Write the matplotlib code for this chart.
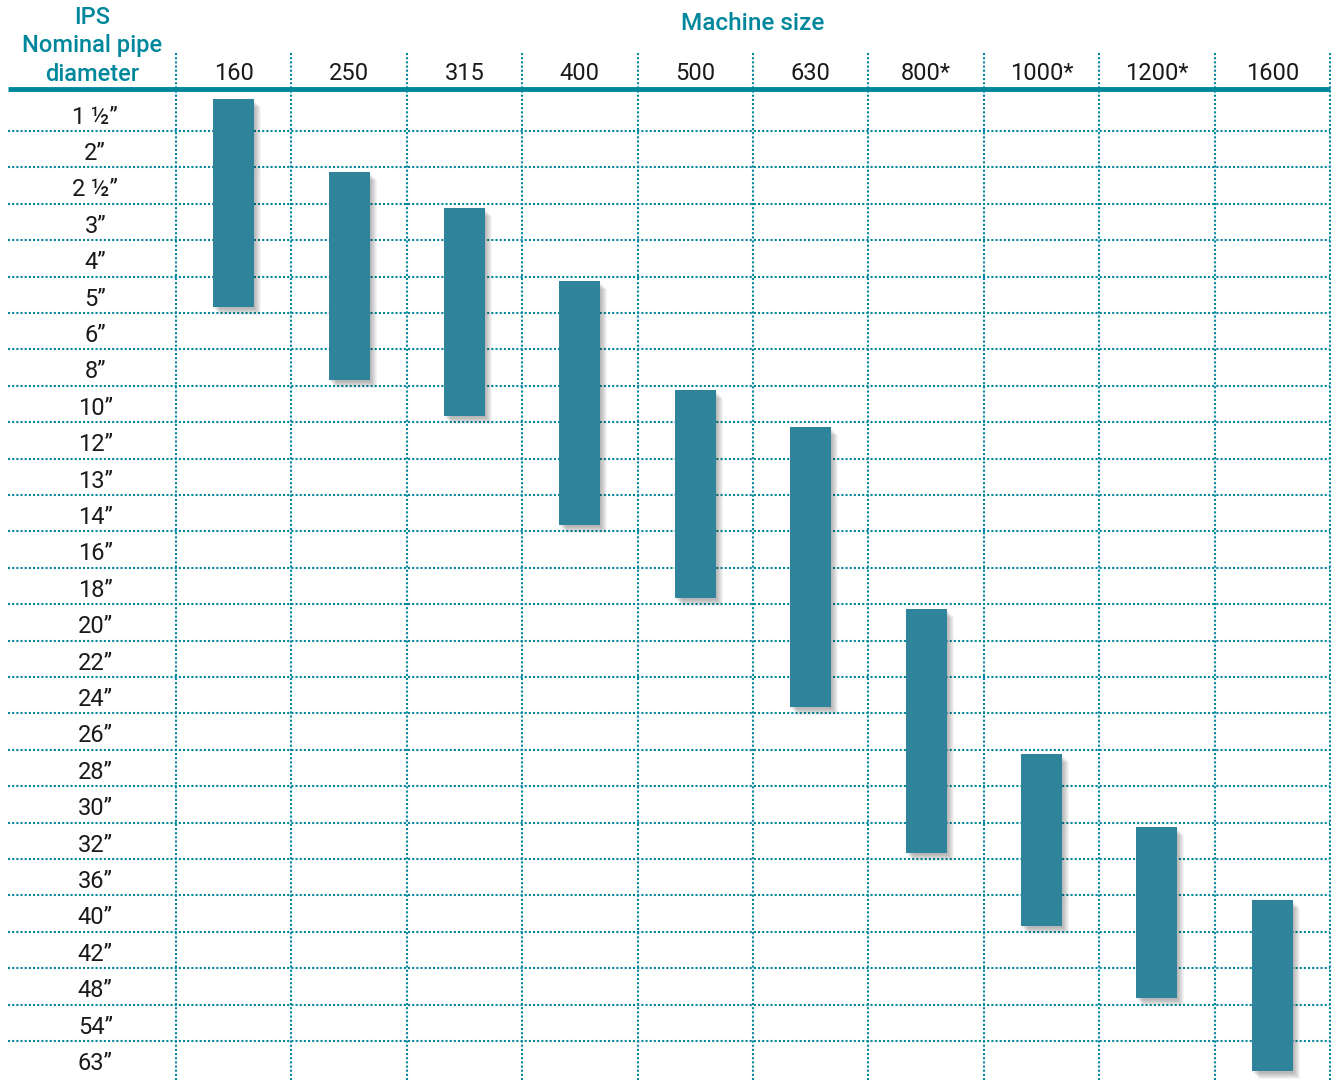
import matplotlib
matplotlib.use("Agg")
import matplotlib.pyplot as plt
from matplotlib.patches import Rectangle

plt.rcParams['font.family'] = ['Roboto', 'DejaVu Sans']

# pipe diameters (rows) and machine sizes (columns)
diameters = ["1 ½”", "2”", "2 ½”", "3”", "4”", "5”", "6”", "8”", "10”", "12”",
             "13”", "14”", "16”", "18”", "20”", "22”", "24”", "26”", "28”",
             "30”", "32”", "36”", "40”", "42”", "48”", "54”", "63”"]
machines = ["160", "250", "315", "400", "500", "630", "800*", "1000*",
            "1200*", "1600"]
range_from = ["1 ½”", "2 ½”", "3”", "5”", "10”", "12”", "20”", "28”", "32”", "40”"]
range_to = ["5”", "8”", "10”", "14”", "18”", "24”", "32”", "40”", "48”", "63”"]

teal = "#00879b"
bar_col = "#2f849c"

fig = plt.figure(figsize=(13.34, 10.8), dpi=100)
ax = fig.add_axes([0, 0, 1, 1])
# one column = 115.4 px, one row = 36.4 px
ax.set_xlim(-176 / 115.4, (1334 - 176) / 115.4)
ax.set_ylim((1080 - 112.8) / 36.4, -112.8 / 36.4)
ax.axis("off")

ncol = len(machines)
nrow = len(diameters)
left = -168 / 115.4
ytop = -60 / 36.4
ybot = (1080 - 112.8) / 36.4

# dotted grid
for k in range(nrow - 1):
    ax.plot([left, ncol], [k + 0.5, k + 0.5], color=teal, lw=1.5,
            ls=(0, (1, 1)), zorder=1)
for i in range(ncol + 1):
    ax.plot([i, i], [ytop, ybot], color=teal, lw=1.5, ls=(0, (1, 1)), zorder=1)

# header rule
ax.plot([left, ncol], [-0.655, -0.655], color=teal, lw=3.5,
        solid_capstyle="butt", zorder=4)

# headings
ax.text(ncol / 2, -2.44, "Machine size", color=teal, fontsize=17.5,
        fontweight="medium", ha="center", va="center")
ax.text(-0.728, -1.84, "IPS\nNominal pipe\ndiameter", color=teal,
        fontsize=17, fontweight="medium", ha="center", va="center",
        linespacing=1.3)

for i, m in enumerate(machines):
    ax.text(i + 0.5, -1.07, m, fontsize=17, color="#1a1a1a",
            ha="center", va="center")
for r, d in enumerate(diameters):
    ax.text(-0.70, r + 0.12, d, fontsize=17, color="#1a1a1a",
            ha="center", va="center")

# bars with a soft drop shadow
bw = 41 / 115.4
px = 1 / 115.4
py = 1 / 36.4
pad_top = 0.12
pad_bot = 0.17
for i in range(ncol):
    y0 = max(diameters.index(range_from[i]) - 0.5 + pad_top, -0.5)
    y1 = diameters.index(range_to[i]) + 0.5 - pad_bot
    x0 = i + 0.5 - bw / 2
    for s in range(1, 8):
        ax.add_patch(Rectangle((x0 + s * px, y0 + (s + 1) * py),
                               bw, y1 - y0, color="#000000", alpha=0.045,
                               lw=0, zorder=2))
    ax.add_patch(Rectangle((x0, y0), bw, y1 - y0, color=bar_col, lw=0,
                           zorder=3))

fig.savefig("out.png", dpi=100)
